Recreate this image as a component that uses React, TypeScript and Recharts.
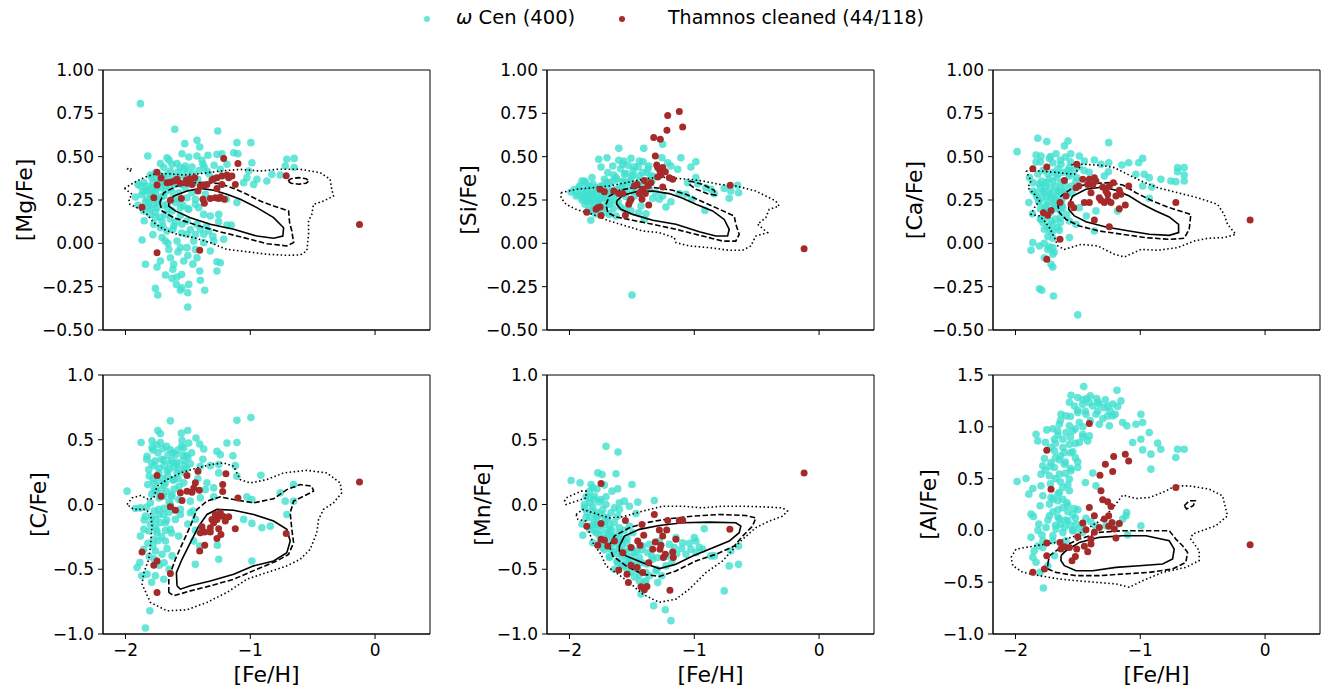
import { ScatterChart, Scatter, XAxis, YAxis, ReferenceArea } from 'recharts';

type P = [number, number][];

const X_DOMAIN: [number, number] = [-2.18, 0.44];
const X_TICKS = [-2, -1, 0];
const ROW1_TICKS = [-0.5, -0.25, 0, 0.25, 0.5, 0.75, 1];
const ROW2_TICKS = [-1, -0.5, 0, 0.5, 1];
const AL_TICKS = [-1, -0.5, 0, 0.5, 1, 1.5];

const CYAN = '#40E0D0';
const BROWN = '#A52A2A';

// ---- [Mg/Fe] ----
const mgCyan: P = [
  [-1.88, 0.806], [-1.605, 0.658], [-1.261, 0.648], [-1.427, 0.594], [-1.525, 0.575], [-1.107, 0.581], [-0.995, 0.581], [-1.405, 0.556],
  [-1.821, 0.504], [-1.667, 0.494], [-1.547, 0.517], [-1.493, 0.498], [-1.427, 0.504], [-1.339, 0.508], [-1.267, 0.513], [-1.227, 0.517],
  [-1.133, 0.523], [-1.099, 0.517], [-1.387, 0.479], [-0.987, 0.465], [-0.707, 0.485], [-0.648, 0.49], [-0.72, 0.446], [-0.648, 0.437],
  [-1.587, 0.46], [-1.52, 0.446], [-1.467, 0.44], [-1.379, 0.456], [-1.693, 0.437], [-1.76, 0.408], [-1.8, 0.394], [-1.64, 0.417],
  [-1.56, 0.437], [-1.013, 0.417], [-0.947, 0.369], [-0.867, 0.36], [-0.827, 0.398], [-0.76, 0.394], [-1.027, 0.379], [-0.973, 0.34],
  [-1.053, 0.35], [-1.88, 0.331], [-1.84, 0.302], [-1.92, 0.267], [-1.827, 0.254], [-1.8, 0.283], [-1.76, 0.292], [-1.72, 0.321],
  [-1.68, 0.331], [-1.573, 0.292], [-1.52, 0.321], [-1.467, 0.292], [-1.36, 0.283], [-1.192, 0.254], [-1.107, 0.235], [-1.853, 0.187],
  [-1.8, 0.167], [-1.747, 0.206], [-1.707, 0.129], [-1.68, 0.167], [-1.627, 0.187], [-1.56, 0.206], [-1.493, 0.196], [-1.44, 0.225],
  [-1.413, 0.206], [-1.373, 0.167], [-1.32, 0.158], [-1.253, 0.167], [-1.253, 0.125], [-1.187, 0.106], [-1.152, 0.106], [-1.773, 0.11],
  [-1.72, 0.09], [-1.667, 0.071], [-1.613, 0.1], [-1.547, 0.11], [-1.507, 0.129], [-1.427, 0.11], [-1.4, 0.081], [-1.333, 0.071],
  [-1.507, 0.052], [-1.867, 0.019], [-1.707, 0.033], [-1.587, 0.013], [-1.453, 0.013], [-1.373, 0.004], [-1.293, 0.013], [-1.213, 0.023],
  [-1.653, -0.035], [-1.56, -0.025], [-1.507, -0.025], [-1.44, -0.035], [-1.32, -0.044], [-1.64, -0.083], [-1.533, -0.102], [-1.427, -0.083],
  [-1.72, -0.102], [-1.84, -0.121], [-1.747, -0.137], [-1.613, -0.121], [-1.267, -0.106], [-1.24, -0.112], [-1.405, -0.16], [-1.267, -0.16],
  [-1.68, -0.183], [-1.627, -0.202], [-1.587, -0.194], [-1.592, -0.237], [-1.547, -0.256], [-1.493, -0.237], [-1.4, -0.213], [-1.56, -0.271],
  [-1.501, -0.285], [-1.76, -0.26], [-1.741, -0.298], [-1.365, -0.271], [-1.501, -0.367], [-1.68, 0.013], [-1.373, 0.052], [-1.853, 0.35],
  [-1.813, 0.235], [-1.773, 0.225], [-1.733, 0.254], [-1.693, 0.273], [-1.667, 0.225], [-1.6, 0.235], [-1.787, 0.321], [-1.507, 0.263],
  [-1.44, 0.254], [-1.693, 0.379], [-1.627, 0.456], [-1.347, 0.417], [-1.24, 0.427], [-1.187, 0.456],
  [-1.86, 0.3], [-1.83, 0.33], [-1.78, 0.35], [-1.75, 0.37], [-1.71, 0.39], [-1.66, 0.4], [-1.62, 0.38], [-1.58, 0.41], [-1.54, 0.39],
  [-1.5, 0.41], [-1.46, 0.4], [-1.42, 0.37], [-1.78, 0.27], [-1.74, 0.24], [-1.7, 0.22], [-1.66, 0.2], [-1.62, 0.26], [-1.58, 0.25],
  [-1.54, 0.22], [-1.5, 0.2], [-1.82, 0.21], [-1.76, 0.18], [-1.72, 0.15], [-1.64, 0.14], [-1.6, 0.12], [-1.56, 0.16], [-1.68, 0.3],
  [-1.64, 0.32], [-1.6, 0.34], [-1.75, 0.32],
  [-1.9, 0.34], [-1.87, 0.28], [-1.84, 0.24], [-1.81, 0.31], [-1.79, 0.38], [-1.77, 0.3], [-1.73, 0.35], [-1.71, 0.27], [-1.69, 0.35],
  [-1.65, 0.36], [-1.63, 0.3], [-1.59, 0.37], [-1.55, 0.34], [-1.53, 0.43], [-1.49, 0.37], [-1.45, 0.35], [-1.41, 0.42], [-1.37, 0.44],
  [-1.33, 0.4], [-1.29, 0.45], [-1.8, 0.2], [-1.76, 0.15], [-1.7, 0.1], [-1.62, 0.08], [-1.55, 0.06], [-1.48, 0.08], [-1.44, 0.05],
  [-1.35, 0.1], [-1.3, 0.04], [-1.58, -0.05], [-1.5, -0.07], [-1.46, -0.12], [-1.62, -0.15], [-1.55, -0.18], [-1.66, 0.0], [-1.78, 0.05],
  [-1.85, 0.13], [-1.9, 0.22], [-1.72, 0.46], [-1.65, 0.48],
];
const mgRed: P = [
  [-1.213, 0.49], [-1.099, 0.46], [-0.712, 0.39], [-1.747, 0.41], [-1.715, 0.377], [-1.747, 0.337], [-1.64, 0.352], [-1.608, 0.36],
  [-1.512, 0.365], [-1.507, 0.346], [-1.445, 0.379], [-1.4, 0.331], [-1.373, 0.337], [-1.307, 0.365], [-1.267, 0.379], [-1.227, 0.388],
  [-1.187, 0.394], [-1.173, 0.379], [-1.12, 0.34], [-1.227, 0.34], [-1.419, 0.302], [-1.32, 0.258], [-1.28, 0.263], [-1.253, 0.258],
  [-1.552, 0.258], [-1.64, 0.248], [-1.773, 0.263], [-1.867, 0.208], [-1.368, 0.231], [-1.747, -0.054], [-1.405, -0.04], [-0.125, 0.108],
  [-1.485, 0.373], [-1.267, 0.317], [-1.56, 0.346], [-1.24, 0.267], [-1.147, 0.388], [-1.347, 0.34], [-1.587, 0.369], [-1.293, 0.373],
  [-1.667, 0.35], [-1.379, 0.254], [-1.467, 0.34], [-1.208, 0.254],
];
const mgSolid: P = [
  [-1.653, 0.235], [-1.613, 0.273], [-1.507, 0.302], [-1.4, 0.317], [-1.293, 0.306], [-1.187, 0.283], [-1.08, 0.254], [-0.947, 0.206],
  [-0.813, 0.148], [-0.733, 0.09], [-0.739, 0.042], [-0.813, 0.029], [-0.947, 0.042], [-1.133, 0.081], [-1.32, 0.11], [-1.48, 0.148],
  [-1.6, 0.187], [-1.653, 0.215],
];
const mgDashed: P = [
  [-1.725, 0.235], [-1.693, 0.292], [-1.587, 0.331], [-1.453, 0.35], [-1.347, 0.35], [-1.24, 0.344], [-1.133, 0.317], [-1.027, 0.283],
  [-0.92, 0.244], [-0.813, 0.215], [-0.693, 0.187], [-0.685, 0.119], [-0.667, 0.071], [-0.653, 0.004], [-0.707, -0.015], [-0.867, -0.002],
  [-1.053, 0.033], [-1.267, 0.071], [-1.453, 0.11], [-1.613, 0.148], [-1.707, 0.187],
];
const mgDashedIsland: P = [
  [-0.698, 0.36], [-0.673, 0.373], [-0.613, 0.379], [-0.553, 0.373], [-0.528, 0.36], [-0.553, 0.347], [-0.613, 0.341], [-0.673, 0.347],
];
const mgDotted: P = [
  [-2.008, 0.317], [-1.933, 0.35], [-1.853, 0.379], [-1.773, 0.398], [-1.667, 0.402], [-1.533, 0.394], [-1.4, 0.402], [-1.24, 0.417],
  [-1.08, 0.427], [-0.92, 0.417], [-0.787, 0.427], [-0.6, 0.427], [-0.44, 0.408], [-0.36, 0.369], [-0.347, 0.312], [-0.333, 0.273],
  [-0.413, 0.244], [-0.493, 0.225], [-0.507, 0.167], [-0.533, 0.129], [-0.533, 0.052], [-0.547, -0.044], [-0.6, -0.067], [-0.707, -0.069],
  [-0.867, -0.063], [-1.027, -0.048], [-1.187, -0.035], [-1.32, 0.004], [-1.453, 0.033], [-1.587, 0.052], [-1.693, 0.081], [-1.773, 0.119],
  [-1.827, 0.167], [-1.907, 0.206], [-1.965, 0.225], [-1.973, 0.254], [-1.947, 0.283],
];
const mgDottedIsland: P = [[-1.987, 0.43], [-1.96, 0.435], [-1.947, 0.417], [-1.975, 0.42]];

// ---- [Si/Fe] ----
const siCyan: P = [
  [-1.605, 0.548], [-1.405, 0.548], [-1.765, 0.485], [-1.699, 0.494], [-1.605, 0.479], [-1.565, 0.475], [-1.507, 0.49], [-1.44, 0.475],
  [-1.48, 0.442], [-1.573, 0.456], [-1.747, 0.44], [-1.653, 0.446], [-1.365, 0.446], [-1.259, 0.494], [-1.253, 0.571], [-1.187, 0.446],
  [-1.107, 0.494], [-0.987, 0.471], [-1.027, 0.44], [-1.133, 0.427], [-1.213, 0.465], [-1.88, 0.36], [-1.645, 0.394], [-1.547, 0.402],
  [-1.493, 0.394], [-1.413, 0.408], [-1.333, 0.388], [-1.72, 0.369], [-1.68, 0.35], [-1.573, 0.35], [-1.52, 0.36], [-1.92, 0.321],
  [-1.987, 0.296], [-1.867, 0.292], [-1.813, 0.283], [-1.787, 0.321], [-1.84, 0.254], [-1.875, 0.225], [-1.819, 0.187], [-1.829, 0.133],
  [-1.773, 0.244], [-1.707, 0.263], [-1.68, 0.225], [-1.64, 0.244], [-1.592, 0.21], [-1.68, 0.167], [-1.627, 0.158], [-1.427, 0.215],
  [-1.445, 0.177], [-1.4, 0.138], [-1.387, 0.171], [-1.333, 0.26], [-1.307, 0.292], [-1.253, 0.273], [-1.187, 0.24], [-1.227, 0.21],
  [-1.12, 0.287], [-1.053, 0.35], [-0.987, 0.379], [-0.973, 0.344], [-0.907, 0.321], [-0.867, 0.312], [-0.84, 0.287], [-0.915, 0.19],
  [-0.76, 0.317], [-0.72, 0.26], [-0.707, 0.302], [-0.653, 0.335], [-0.645, 0.292], [-1.499, -0.298], [-1.733, 0.331], [-1.6, 0.321],
  [-1.547, 0.292], [-1.653, 0.287], [-1.747, 0.273], [-1.8, 0.225], [-1.507, 0.187], [-1.56, 0.196], [-1.36, 0.312], [-1.28, 0.254],
  [-1.48, 0.273], [-1.44, 0.36], [-1.627, 0.379], [-1.693, 0.408], [-1.84, 0.331], [-1.947, 0.273], [-1.893, 0.263], [-1.067, 0.283],
  [-1.019, 0.254],
  [-1.9, 0.3], [-1.86, 0.32], [-1.82, 0.3], [-1.78, 0.31], [-1.74, 0.3], [-1.7, 0.29], [-1.88, 0.27], [-1.84, 0.27], [-1.8, 0.26],
  [-1.76, 0.25], [-1.72, 0.26], [-1.68, 0.24], [-1.86, 0.24], [-1.82, 0.22], [-1.78, 0.21], [-1.74, 0.2], [-1.66, 0.3], [-1.62, 0.28],
  [-1.58, 0.32], [-1.54, 0.33], [-1.5, 0.31], [-1.46, 0.34], [-1.62, 0.37], [-1.56, 0.4], [-1.5, 0.38], [-1.44, 0.39], [-1.38, 0.41],
  [-1.34, 0.36], [-1.7, 0.35], [-1.92, 0.33],
  [-1.96, 0.31], [-1.93, 0.28], [-1.9, 0.25], [-1.87, 0.35], [-1.85, 0.29], [-1.83, 0.25], [-1.81, 0.34], [-1.79, 0.28], [-1.77, 0.23],
  [-1.75, 0.33], [-1.73, 0.27], [-1.71, 0.22], [-1.69, 0.32], [-1.67, 0.27], [-1.65, 0.36], [-1.63, 0.31], [-1.61, 0.24], [-1.59, 0.43],
  [-1.57, 0.36], [-1.55, 0.27], [-1.53, 0.45], [-1.51, 0.35], [-1.49, 0.42], [-1.47, 0.3], [-1.45, 0.44], [-1.43, 0.33], [-1.41, 0.47],
  [-1.39, 0.36], [-1.37, 0.43], [-1.35, 0.39], [-1.85, 0.19], [-1.79, 0.17], [-1.71, 0.18], [-1.65, 0.2], [-1.9, 0.36], [-1.82, 0.38],
];
const siRed: P = [
  [-1.12, 0.76], [-1.213, 0.738], [-1.219, 0.652], [-1.093, 0.671], [-1.325, 0.61], [-1.272, 0.6], [-1.312, 0.504], [-1.301, 0.452],
  [-1.253, 0.437], [-1.275, 0.417], [-1.232, 0.413], [-1.267, 0.394], [-1.293, 0.383], [-1.173, 0.369], [-1.4, 0.363], [-1.373, 0.331],
  [-1.459, 0.34], [-1.413, 0.312], [-1.44, 0.287], [-1.419, 0.254], [-1.365, 0.221], [-1.253, 0.325], [-0.712, 0.335], [-1.755, 0.312],
  [-1.72, 0.298], [-1.645, 0.302], [-1.605, 0.287], [-1.515, 0.244], [-1.525, 0.225], [-1.552, 0.162], [-1.773, 0.206], [-1.755, 0.21],
  [-1.747, 0.16], [-1.861, 0.179], [-0.12, -0.031], [-1.427, 0.298], [-1.48, 0.331], [-1.392, 0.287], [-1.293, 0.437], [-1.507, 0.254],
  [-1.787, 0.196], [-1.347, 0.35], [-1.2, 0.379], [-1.573, 0.287],
];
const siSolid: P = [
  [-1.621, 0.244], [-1.573, 0.277], [-1.467, 0.298], [-1.333, 0.302], [-1.2, 0.287], [-1.093, 0.26], [-0.987, 0.225], [-0.853, 0.187],
  [-0.76, 0.138], [-0.72, 0.081], [-0.733, 0.042], [-0.827, 0.042], [-0.96, 0.067], [-1.147, 0.11], [-1.333, 0.133], [-1.493, 0.167],
  [-1.587, 0.196], [-1.621, 0.225],
];
const siDashed: P = [
  [-1.707, 0.225], [-1.68, 0.273], [-1.6, 0.306], [-1.467, 0.325], [-1.307, 0.321], [-1.173, 0.306], [-1.067, 0.283], [-0.96, 0.248],
  [-0.827, 0.206], [-0.68, 0.158], [-0.667, 0.11], [-0.64, 0.052], [-0.667, 0.013], [-0.773, 0.013], [-0.933, 0.042], [-1.147, 0.081],
  [-1.333, 0.11], [-1.493, 0.133], [-1.627, 0.152], [-1.693, 0.177],
];
const siDashedIsland: P = [[-1.04, 0.36], [-0.933, 0.34], [-0.84, 0.306], [-0.827, 0.279], [-0.88, 0.283], [-0.987, 0.312], [-1.04, 0.34]];
const siDotted: P = [
  [-2.067, 0.292], [-1.947, 0.312], [-1.813, 0.321], [-1.68, 0.331], [-1.547, 0.35], [-1.413, 0.369], [-1.28, 0.383], [-1.147, 0.375],
  [-1.04, 0.369], [-0.933, 0.36], [-0.8, 0.34], [-0.667, 0.331], [-0.507, 0.302], [-0.347, 0.244], [-0.32, 0.215], [-0.4, 0.196],
  [-0.427, 0.148], [-0.493, 0.11], [-0.413, 0.062], [-0.507, 0.042], [-0.547, -0.015], [-0.613, -0.04], [-0.72, -0.04], [-0.88, -0.025],
  [-1.04, -0.015], [-1.147, 0.004], [-1.16, 0.033], [-1.28, 0.062], [-1.413, 0.071], [-1.547, 0.1], [-1.68, 0.129], [-1.813, 0.167],
  [-1.947, 0.196], [-2.027, 0.225], [-2.067, 0.263],
];

// ---- [Ca/Fe] ----
const caCyan: P = [
  [-1.821, 0.606], [-1.749, 0.587], [-1.579, 0.59], [-1.608, 0.562], [-1.253, 0.581], [-1.987, 0.529], [-1.835, 0.51], [-1.795, 0.504],
  [-1.728, 0.49], [-1.675, 0.517], [-1.6, 0.498], [-1.557, 0.517], [-1.488, 0.504], [-1.448, 0.475], [-1.368, 0.481], [-1.835, 0.469],
  [-1.701, 0.465], [-1.635, 0.456], [-1.568, 0.437], [-1.315, 0.456], [-1.253, 0.465], [-1.147, 0.452], [-1.093, 0.465], [-1.013, 0.465],
  [-0.981, 0.49], [-1.256, 0.413], [-1.035, 0.398], [-0.968, 0.398], [-0.928, 0.379], [-0.835, 0.369], [-0.755, 0.36], [-0.715, 0.356],
  [-0.701, 0.413], [-0.648, 0.437], [-0.648, 0.394], [-0.648, 0.36], [-0.701, 0.437], [-0.981, 0.331], [-0.907, 0.325], [-1.888, 0.379],
  [-1.808, 0.344], [-1.755, 0.35], [-1.701, 0.36], [-1.661, 0.398], [-1.568, 0.388], [-1.861, 0.302], [-1.781, 0.298], [-1.728, 0.283],
  [-1.661, 0.302], [-1.608, 0.292], [-1.547, 0.287], [-1.893, 0.235], [-1.813, 0.244], [-1.741, 0.235], [-1.688, 0.215], [-1.864, 0.171],
  [-1.795, 0.138], [-1.715, 0.129], [-1.64, 0.148], [-1.589, 0.167], [-1.568, 0.129], [-1.488, 0.206], [-1.432, 0.158], [-1.515, 0.11],
  [-1.768, 0.081], [-1.701, 0.071], [-1.648, 0.075], [-1.568, 0.033], [-1.368, 0.071], [-1.181, 0.187], [-1.355, 0.187], [-1.861, 0.004],
  [-1.808, -0.015], [-1.741, -0.035], [-1.701, -0.025], [-1.875, -0.04], [-1.701, -0.063], [-1.768, -0.083], [-1.715, -0.121], [-1.701, -0.137],
  [-1.808, -0.262], [-1.789, -0.271], [-1.696, -0.304], [-1.501, -0.413], [-0.928, 0.26], [-1.288, 0.388], [-1.635, 0.35], [-1.515, 0.36],
  [-1.688, 0.254], [-1.768, 0.206], [-1.621, 0.206],
  [-1.82, 0.4], [-1.78, 0.42], [-1.74, 0.4], [-1.7, 0.41], [-1.66, 0.43], [-1.62, 0.41], [-1.58, 0.42], [-1.8, 0.32], [-1.76, 0.33],
  [-1.72, 0.32], [-1.68, 0.33], [-1.64, 0.31], [-1.6, 0.33], [-1.83, 0.27], [-1.79, 0.26], [-1.75, 0.27], [-1.71, 0.26], [-1.67, 0.27],
  [-1.63, 0.25], [-1.8, 0.2], [-1.76, 0.19], [-1.72, 0.18], [-1.68, 0.2], [-1.64, 0.19], [-1.78, 0.12], [-1.74, 0.1], [-1.7, 0.11],
  [-1.66, 0.09], [-1.74, 0.04], [-1.7, 0.03],
  [-1.86, 0.35], [-1.84, 0.29], [-1.81, 0.24], [-1.79, 0.36], [-1.77, 0.3], [-1.75, 0.22], [-1.73, 0.37], [-1.71, 0.29], [-1.69, 0.23],
  [-1.67, 0.38], [-1.65, 0.3], [-1.63, 0.22], [-1.61, 0.36], [-1.59, 0.29], [-1.57, 0.4], [-1.55, 0.33], [-1.53, 0.42], [-1.51, 0.38],
  [-1.49, 0.44], [-1.45, 0.42], [-1.41, 0.41], [-1.8, 0.14], [-1.76, 0.15], [-1.72, 0.07], [-1.68, 0.14], [-1.64, 0.12], [-1.77, 0.0],
  [-1.73, -0.02], [-1.69, -0.05], [-1.8, 0.47], [-1.72, 0.5], [-1.64, 0.48], [-1.56, 0.47],
];
const caRed: P = [
  [-1.861, 0.431], [-1.749, 0.44], [-1.509, 0.456], [-1.608, 0.363], [-1.461, 0.369], [-1.408, 0.369], [-1.368, 0.379], [-1.515, 0.321],
  [-1.493, 0.331], [-1.421, 0.34], [-1.381, 0.337], [-1.301, 0.325], [-1.248, 0.331], [-1.216, 0.35], [-1.168, 0.306], [-1.093, 0.331],
  [-1.261, 0.283], [-1.195, 0.273], [-1.315, 0.248], [-1.288, 0.235], [-1.261, 0.248], [-1.235, 0.235], [-1.448, 0.235], [-1.408, 0.235],
  [-1.555, 0.225], [-1.533, 0.206], [-1.12, 0.221], [-1.168, 0.2], [-1.643, 0.235], [-1.776, 0.177], [-1.715, 0.19], [-1.741, 0.162],
  [-1.368, 0.135], [-1.248, 0.096], [-1.643, 0.023], [-1.749, -0.092], [-0.715, 0.235], [-0.12, 0.135], [-1.275, 0.302], [-1.328, 0.263],
  [-1.595, 0.273], [-1.395, 0.292], [-1.155, 0.283], [-1.355, 0.36],
];
const caSolid: P = [
  [-1.573, 0.225], [-1.541, 0.273], [-1.435, 0.312], [-1.301, 0.325], [-1.195, 0.306], [-1.088, 0.273], [-0.981, 0.225], [-0.875, 0.187],
  [-0.768, 0.152], [-0.693, 0.11], [-0.693, 0.062], [-0.768, 0.046], [-0.928, 0.052], [-1.088, 0.071], [-1.275, 0.094], [-1.435, 0.125],
  [-1.528, 0.158], [-1.573, 0.196],
];
const caDashed: P = [
  [-1.661, 0.225], [-1.635, 0.273], [-1.541, 0.321], [-1.408, 0.344], [-1.248, 0.35], [-1.141, 0.337], [-1.035, 0.292], [-0.901, 0.244],
  [-0.768, 0.206], [-0.595, 0.167], [-0.608, 0.081], [-0.648, 0.029], [-0.768, 0.023], [-0.955, 0.033], [-1.141, 0.052], [-1.328, 0.071],
  [-1.488, 0.1], [-1.595, 0.138], [-1.648, 0.177],
];
const caDotted: P = [
  [-1.915, 0.417], [-1.795, 0.417], [-1.661, 0.408], [-1.528, 0.398], [-1.488, 0.437], [-1.555, 0.456], [-1.448, 0.456], [-1.315, 0.45],
  [-1.208, 0.437], [-1.101, 0.398], [-0.995, 0.36], [-0.861, 0.321], [-0.701, 0.292], [-0.541, 0.263], [-0.381, 0.225], [-0.328, 0.167],
  [-0.301, 0.11], [-0.235, 0.052], [-0.328, 0.033], [-0.461, 0.029], [-0.568, 0.013], [-0.701, -0.025], [-0.861, -0.04], [-0.995, -0.035],
  [-1.128, -0.079], [-1.208, -0.063], [-1.341, -0.015], [-1.475, -0.006], [-1.608, -0.035], [-1.661, -0.015], [-1.688, 0.033], [-1.728, 0.09],
  [-1.768, 0.129], [-1.808, 0.158], [-1.875, 0.167], [-1.848, 0.206], [-1.808, 0.244], [-1.848, 0.283], [-1.901, 0.321], [-1.875, 0.36],
];

// ---- [C/Fe] ----
const cCyan: P = [
  [-1.64, 0.646], [-1.107, 0.651], [-0.995, 0.672], [-1.741, 0.572], [-1.72, 0.546], [-1.552, 0.551], [-1.501, 0.572], [-1.435, 0.513],
  [-1.875, 0.479], [-1.787, 0.492], [-1.72, 0.479], [-1.547, 0.495], [-1.493, 0.474], [-1.405, 0.467], [-1.187, 0.474], [-1.107, 0.479],
  [-1.787, 0.441], [-1.64, 0.423], [-1.533, 0.436], [-1.6, 0.385], [-1.512, 0.377], [-1.373, 0.428], [-1.267, 0.41], [-1.24, 0.385],
  [-1.139, 0.377], [-1.827, 0.372], [-1.76, 0.338], [-1.693, 0.341], [-1.64, 0.321], [-1.587, 0.326], [-1.533, 0.341], [-1.48, 0.315],
  [-1.4, 0.295], [-1.32, 0.3], [-1.253, 0.308], [-1.12, 0.3], [-1.813, 0.269], [-1.733, 0.244], [-1.667, 0.256], [-1.587, 0.244],
  [-1.253, 0.244], [-1.107, 0.218], [-0.915, 0.226], [-1.821, 0.154], [-1.773, 0.167], [-1.68, 0.167], [-1.613, 0.192], [-1.533, 0.167],
  [-1.347, 0.167], [-1.293, 0.128], [-1.987, 0.103], [-1.92, -0.031], [-1.88, -0.026], [-1.76, 0.103], [-1.693, 0.064], [-1.627, 0.077],
  [-1.573, 0.038], [-1.48, 0.026], [-1.4, 0.051], [-1.36, 0.115], [-1.293, 0.059], [-1.027, 0.059], [-0.987, 0.038], [-0.76, 0.09],
  [-0.72, 0.026], [-0.653, 0.154], [-0.653, 0.026], [-0.707, -0.077], [-1.84, -0.09], [-1.76, -0.115], [-1.693, -0.077], [-1.6, -0.115],
  [-1.56, -0.077], [-1.48, -0.064], [-1.44, -0.115], [-1.053, -0.115], [-0.987, -0.146], [-0.907, -0.179], [-0.84, -0.167], [-1.88, -0.244],
  [-1.813, -0.205], [-1.747, -0.218], [-1.64, -0.192], [-1.573, -0.244], [-1.453, -0.282], [-1.405, -0.321], [-1.264, -0.315], [-1.253, -0.423],
  [-1.44, -0.462], [-0.987, -0.436], [-1.885, -0.449], [-1.853, -0.346], [-1.76, -0.359], [-1.707, -0.385], [-1.667, -0.341], [-1.907, -0.487],
  [-1.827, -0.538], [-1.76, -0.551], [-1.693, -0.577], [-1.805, -0.821], [-1.84, -0.954], [-1.773, -0.269], [-1.68, -0.282], [-1.627, -0.397],
  [-1.8, 0.013], [-1.64, 0.0], [-1.56, -0.038], [-1.733, -0.038], [-1.853, -0.192], [-1.68, -0.141],
  [-1.78, 0.42], [-1.74, 0.4], [-1.7, 0.43], [-1.66, 0.38], [-1.62, 0.4], [-1.58, 0.42], [-1.54, 0.38], [-1.5, 0.36], [-1.77, 0.3],
  [-1.73, 0.28], [-1.69, 0.3], [-1.65, 0.27], [-1.61, 0.29], [-1.57, 0.27], [-1.53, 0.25], [-1.78, 0.2], [-1.74, 0.18], [-1.7, 0.2],
  [-1.66, 0.22], [-1.62, 0.19], [-1.58, 0.2], [-1.79, 0.08], [-1.75, 0.1], [-1.71, 0.12], [-1.67, 0.1], [-1.63, 0.06], [-1.77, -0.05],
  [-1.73, -0.08], [-1.69, -0.03], [-1.65, -0.06], [-1.8, -0.15], [-1.76, -0.17], [-1.72, -0.14], [-1.68, -0.2], [-1.82, -0.3],
  [-1.78, -0.32], [-1.74, -0.28],
  [-1.83, 0.35], [-1.79, 0.32], [-1.75, 0.46], [-1.71, 0.35], [-1.67, 0.45], [-1.63, 0.34], [-1.59, 0.31], [-1.55, 0.45], [-1.51, 0.28],
  [-1.47, 0.4], [-1.81, 0.22], [-1.77, 0.12], [-1.73, 0.05], [-1.69, 0.15], [-1.65, 0.02], [-1.61, 0.12], [-1.57, 0.14], [-1.53, 0.3],
  [-1.83, -0.02], [-1.79, -0.1], [-1.75, -0.2], [-1.71, -0.25], [-1.67, -0.12], [-1.63, -0.22], [-1.85, -0.12], [-1.81, -0.4],
  [-1.77, -0.42], [-1.73, -0.47], [-1.69, -0.45], [-1.65, -0.5], [-1.87, -0.55], [-1.79, -0.6], [-1.44, -0.2], [-1.46, -0.05],
  [-1.5, -0.15], [-1.42, 0.2], [-1.38, 0.35],
];
const cRed: P = [
  [-1.747, 0.223], [-1.507, 0.223], [-1.419, 0.256], [-1.195, 0.238], [-1.715, 0.064], [-1.44, 0.167], [-1.221, 0.154], [-1.221, 0.1],
  [-1.099, 0.051], [-1.547, 0.031], [-1.507, 0.103], [-1.467, 0.095], [-1.408, 0.11], [-1.64, -0.018], [-1.6, -0.044], [-1.28, -0.077],
  [-1.253, -0.09], [-1.219, -0.09], [-1.173, -0.095], [-1.307, -0.115], [-1.293, -0.141], [-1.387, -0.172], [-1.365, -0.213], [-1.32, -0.213],
  [-1.253, -0.187], [-1.12, -0.187], [-1.267, -0.262], [-1.235, -0.231], [-1.365, -0.315], [-1.405, -0.359], [-1.867, -0.367], [-1.747, -0.436],
  [-1.773, -0.469], [-1.64, -0.533], [-1.747, -0.679], [-0.712, -0.223], [-0.125, 0.174], [-1.267, -0.115], [-1.2, -0.128], [-1.32, -0.179],
  [-1.56, 0.09], [-1.453, 0.128], [-1.24, -0.064], [-1.4, -0.218],
];
const cSolid: P = [
  [-1.587, -0.628], [-1.592, -0.526], [-1.547, -0.423], [-1.48, -0.295], [-1.413, -0.167], [-1.347, -0.077], [-1.267, -0.038], [-1.133, -0.044],
  [-0.973, -0.077], [-0.813, -0.128], [-0.707, -0.192], [-0.68, -0.282], [-0.707, -0.372], [-0.813, -0.436], [-0.973, -0.474], [-1.133, -0.538],
  [-1.32, -0.59], [-1.48, -0.628], [-1.56, -0.654],
];
const cDashed: P = [
  [-1.653, -0.679], [-1.653, -0.564], [-1.6, -0.423], [-1.547, -0.308], [-1.48, -0.167], [-1.427, -0.038], [-1.347, 0.026], [-1.24, 0.059],
  [-1.133, 0.038], [-0.973, 0.013], [-0.813, 0.044], [-0.707, 0.115], [-0.6, 0.154], [-0.507, 0.141], [-0.493, 0.103], [-0.573, 0.064],
  [-0.653, 0.026], [-0.68, -0.064], [-0.667, -0.192], [-0.653, -0.295], [-0.693, -0.385], [-0.787, -0.436], [-0.947, -0.5], [-1.133, -0.577],
  [-1.32, -0.628], [-1.48, -0.667], [-1.613, -0.705],
];
const cDotted: P = [
  [-1.987, 0.0], [-1.947, 0.051], [-1.88, 0.069], [-1.813, 0.038], [-1.773, 0.051], [-1.747, 0.141], [-1.667, 0.192], [-1.56, 0.244],
  [-1.427, 0.282], [-1.32, 0.308], [-1.213, 0.321], [-1.133, 0.295], [-1.08, 0.192], [-1.0, 0.167], [-0.867, 0.192], [-0.733, 0.244],
  [-0.547, 0.264], [-0.387, 0.244], [-0.28, 0.167], [-0.267, 0.09], [-0.333, 0.013], [-0.413, -0.038], [-0.453, -0.115], [-0.467, -0.218],
  [-0.52, -0.346], [-0.6, -0.423], [-0.707, -0.474], [-0.867, -0.526], [-1.027, -0.577], [-1.187, -0.679], [-1.347, -0.756], [-1.507, -0.813],
  [-1.667, -0.821], [-1.8, -0.756], [-1.867, -0.615], [-1.853, -0.526], [-1.813, -0.423], [-1.8, -0.321], [-1.787, -0.167], [-1.8, -0.064],
  [-1.853, -0.038], [-1.933, -0.038],
];

// ---- [Mn/Fe] ----
const mnCyan: P = [
  [-1.707, 0.449], [-1.611, 0.405], [-1.987, 0.185], [-1.915, 0.167], [-1.773, 0.244], [-1.739, 0.231], [-1.627, 0.238], [-1.499, 0.154],
  [-1.827, 0.154], [-1.813, 0.128], [-1.659, 0.103], [-1.613, 0.121], [-1.867, 0.059], [-1.8, 0.064], [-1.747, 0.038], [-1.707, 0.059],
  [-1.6, 0.013], [-1.453, 0.018], [-1.32, 0.031], [-1.88, -0.026], [-1.813, -0.013], [-1.733, -0.038], [-1.64, -0.026], [-1.6, -0.038],
  [-1.52, -0.013], [-1.467, -0.069], [-1.867, -0.103], [-1.787, -0.09], [-1.693, -0.115], [-1.613, -0.09], [-1.893, -0.238], [-1.84, -0.192],
  [-1.787, -0.218], [-1.68, -0.192], [-1.6, -0.179], [-1.52, -0.167], [-1.813, -0.295], [-1.733, -0.333], [-1.667, -0.346], [-1.6, -0.333],
  [-1.547, -0.372], [-1.48, -0.372], [-1.68, -0.41], [-1.613, -0.449], [-1.56, -0.474], [-1.44, -0.41], [-1.373, -0.372], [-1.333, -0.423],
  [-1.413, -0.321], [-1.36, -0.308], [-1.387, -0.526], [-1.44, -0.59], [-1.307, -0.513], [-1.293, -0.603], [-1.427, -0.692], [-1.325, -0.782],
  [-1.232, -0.813], [-1.187, -0.897], [-1.147, -0.256], [-1.16, -0.333], [-1.093, -0.295], [-1.067, -0.385], [-1.027, -0.346], [-1.0, -0.256],
  [-0.987, -0.282], [-0.92, -0.187], [-0.933, -0.346], [-0.987, -0.372], [-0.867, -0.397], [-0.84, -0.397], [-0.707, -0.359], [-0.645, -0.321],
  [-0.72, -0.474], [-0.645, -0.462], [-0.76, -0.667], [-1.2, -0.308], [-1.28, -0.282], [-1.387, -0.59], [-1.227, -0.474], [-1.293, -0.41],
  [-1.493, -0.474], [-1.693, -0.218], [-1.493, -0.218], [-1.453, -0.5], [-1.64, -0.5], [-1.787, -0.154], [-1.72, -0.154], [-1.653, -0.256],
  [-1.573, -0.269], [-1.52, -0.423], [-1.707, 0.0], [-1.667, -0.064], [-1.84, 0.013], [-1.56, 0.026],
  [-1.84, 0.05], [-1.8, 0.04], [-1.76, 0.02], [-1.82, -0.05], [-1.78, -0.06], [-1.74, -0.08], [-1.7, -0.1], [-1.8, -0.14], [-1.76, -0.16],
  [-1.72, -0.13], [-1.68, -0.16], [-1.64, -0.14], [-1.76, -0.24], [-1.72, -0.26], [-1.68, -0.23], [-1.64, -0.25], [-1.6, -0.22],
  [-1.56, -0.2], [-1.7, -0.32], [-1.66, -0.3], [-1.62, -0.3], [-1.58, -0.31], [-1.54, -0.3], [-1.62, -0.38], [-1.58, -0.4], [-1.54, -0.42],
  [-1.5, -0.4], [-1.46, -0.36], [-1.54, -0.5], [-1.5, -0.52], [-1.46, -0.48], [-1.42, -0.45],
  [-1.88, 0.0], [-1.86, -0.06], [-1.84, -0.1], [-1.82, -0.16], [-1.8, -0.2], [-1.78, -0.1], [-1.76, -0.3], [-1.74, -0.2], [-1.72, -0.35],
  [-1.7, -0.26], [-1.68, -0.4], [-1.66, -0.2], [-1.64, -0.36], [-1.62, -0.44], [-1.6, -0.27], [-1.58, -0.46], [-1.56, -0.36], [-1.54, -0.26],
  [-1.52, -0.46], [-1.5, -0.34], [-1.48, -0.56], [-1.46, -0.44], [-1.44, -0.54], [-1.42, -0.35], [-1.4, -0.6], [-1.38, -0.46], [-1.36, -0.55],
  [-1.34, -0.4], [-1.3, -0.5], [-1.26, -0.55], [-1.22, -0.4], [-1.18, -0.45], [-1.14, -0.38], [-1.1, -0.34], [-1.04, -0.3], [-0.96, -0.33],
  [-1.84, 0.1], [-1.78, 0.12], [-1.72, 0.15], [-1.9, -0.15],
];
const mnRed: P = [
  [-1.747, 0.162], [-1.861, -0.167], [-1.747, -0.146], [-1.552, -0.123], [-1.419, -0.154], [-1.32, -0.077], [-1.213, -0.123], [-1.12, -0.123],
  [-1.093, -0.121], [-1.28, -0.197], [-1.221, -0.197], [-0.715, -0.192], [-1.747, -0.269], [-1.72, -0.277], [-1.773, -0.315], [-1.693, -0.321],
  [-1.453, -0.282], [-1.435, -0.315], [-1.507, -0.333], [-1.405, -0.238], [-1.312, -0.29], [-1.267, -0.315], [-1.275, -0.346], [-1.232, -0.385],
  [-1.248, -0.41], [-1.173, -0.367], [-1.168, -0.41], [-1.365, -0.449], [-1.507, -0.469], [-1.605, -0.505], [-1.459, -0.487], [-1.539, -0.538],
  [-1.528, -0.603], [-1.427, -0.636], [-1.379, -0.633], [-1.4, -0.659], [-1.195, -0.662], [-0.12, 0.244], [-1.253, -0.244], [-1.333, -0.346],
  [-1.573, -0.372], [-1.413, -0.526], [-1.64, -0.282], [-1.147, -0.269],
];
const mnSolid: P = [
  [-1.6, -0.321], [-1.56, -0.244], [-1.44, -0.192], [-1.28, -0.162], [-1.093, -0.141], [-0.88, -0.136], [-0.667, -0.141], [-0.627, -0.167],
  [-0.64, -0.218], [-0.72, -0.282], [-0.88, -0.346], [-1.013, -0.397], [-1.147, -0.462], [-1.28, -0.495], [-1.413, -0.449], [-1.547, -0.397],
  [-1.6, -0.359],
];
const mnDashed: P = [
  [-1.68, -0.321], [-1.64, -0.244], [-1.52, -0.179], [-1.36, -0.136], [-1.2, -0.11], [-1.013, -0.09], [-0.8, -0.077], [-0.587, -0.085],
  [-0.507, -0.103], [-0.533, -0.167], [-0.613, -0.244], [-0.68, -0.321], [-0.827, -0.385], [-0.987, -0.436], [-1.147, -0.513], [-1.28, -0.556],
  [-1.413, -0.538], [-1.547, -0.474], [-1.653, -0.397],
];
const mnDottedIsland: P = [[-2.04, 0.026], [-2.027, 0.051], [-1.907, 0.103], [-1.867, 0.103], [-1.867, 0.051], [-1.947, 0.026], [-2.027, 0.0]];
const mnDotted: P = [
  [-1.947, -0.077], [-1.893, -0.038], [-1.813, -0.064], [-1.68, -0.103], [-1.573, -0.095], [-1.413, -0.051], [-1.253, -0.013], [-1.093, -0.013],
  [-0.933, -0.026], [-0.773, -0.013], [-0.613, -0.013], [-0.453, -0.018], [-0.293, -0.026], [-0.253, -0.051], [-0.293, -0.09], [-0.4, -0.128],
  [-0.507, -0.179], [-0.613, -0.269], [-0.667, -0.321], [-0.773, -0.436], [-0.907, -0.526], [-1.04, -0.654], [-1.147, -0.731], [-1.28, -0.756],
  [-1.413, -0.692], [-1.52, -0.603], [-1.627, -0.526], [-1.707, -0.474], [-1.747, -0.385], [-1.813, -0.295], [-1.84, -0.218], [-1.867, -0.128],
  [-1.933, -0.115],
];

// ---- [Al/Fe] ----
const alCyan: P = [
  [-1.453, 1.388], [-1.187, 1.352], [-1.555, 1.304], [-1.501, 1.282], [-1.429, 1.272], [-1.349, 1.272], [-1.568, 1.237], [-1.528, 1.201],
  [-1.461, 1.218], [-1.408, 1.233], [-1.381, 1.201], [-1.328, 1.218], [-1.288, 1.185], [-1.155, 1.25], [-1.181, 1.195], [-1.635, 1.121],
  [-1.595, 1.105], [-1.501, 1.137], [-1.435, 1.121], [-1.355, 1.121], [-1.261, 1.105], [-1.221, 1.105], [-1.141, 1.041], [-1.108, 1.009],
  [-1.035, 1.025], [-0.995, 1.121], [-0.981, 1.041], [-1.648, 1.025], [-1.568, 1.009], [-1.488, 1.041], [-1.328, 1.025], [-1.248, 1.009],
  [-1.835, 0.928], [-1.749, 0.97], [-1.661, 0.96], [-1.595, 0.944], [-1.541, 0.96], [-1.461, 0.928], [-1.408, 0.912], [-1.821, 0.864],
  [-1.688, 0.88], [-1.568, 0.832], [-1.488, 0.848], [-1.421, 0.864], [-1.061, 0.848], [-0.995, 0.88], [-0.928, 0.944], [-0.861, 0.842],
  [-0.835, 0.784], [-0.701, 0.784], [-0.648, 0.784], [-0.715, 0.704], [-0.981, 0.777], [-0.915, 0.736], [-0.915, 0.591], [-1.688, 0.768],
  [-1.608, 0.752], [-1.541, 0.758], [-1.768, 0.694], [-1.715, 0.655], [-1.648, 0.681], [-1.501, 0.662], [-1.781, 0.623], [-1.688, 0.607],
  [-1.608, 0.639], [-1.555, 0.575], [-1.381, 0.553], [-1.501, 0.607], [-1.795, 0.543], [-1.728, 0.527], [-1.648, 0.543], [-1.568, 0.495],
  [-1.44, 0.463], [-1.355, 0.43], [-1.987, 0.472], [-1.915, 0.501], [-1.861, 0.405], [-1.893, 0.35], [-1.795, 0.43], [-1.781, 0.334],
  [-1.715, 0.318], [-1.648, 0.366], [-1.621, 0.414], [-1.568, 0.382], [-1.728, 0.254], [-1.661, 0.286], [-1.589, 0.27], [-1.528, 0.212],
  [-1.803, 0.238], [-1.875, 0.157], [-1.856, 0.135], [-1.728, 0.141], [-1.648, 0.109], [-1.581, 0.093], [-1.515, 0.061], [-1.435, 0.116],
  [-1.813, 0.061], [-1.755, 0.029], [-1.675, 0.013], [-1.608, 0.029], [-1.541, -0.003], [-1.488, 0.013], [-1.875, -0.067], [-1.787, -0.045],
  [-1.701, -0.1], [-1.781, -0.164], [-1.861, -0.26], [-1.835, -0.308], [-1.803, -0.405], [-1.776, -0.556], [-1.741, -0.341], [-1.688, -0.244],
  [-1.109, 0.173], [-1.115, 0.141], [-1.141, 0.109], [-1.181, 0.061], [-1.101, -0.042], [-0.995, 0.045], [-1.275, 0.045], [-1.395, 0.084],
  [-1.36, 0.045], [-1.461, -0.019], [-1.595, -0.1],
  [-1.66, 0.2], [-1.62, 0.22], [-1.58, 0.18], [-1.54, 0.15], [-1.7, 0.18], [-1.64, 0.06], [-1.6, 0.1], [-1.56, 0.05], [-1.52, 0.12],
  [-1.68, 0.05], [-1.72, 0.45], [-1.68, 0.5], [-1.64, 0.47], [-1.6, 0.55], [-1.76, 0.58], [-1.72, 0.62], [-1.68, 0.7], [-1.64, 0.72],
  [-1.6, 0.66], [-1.72, 0.8], [-1.68, 0.84], [-1.62, 0.88], [-1.56, 0.9], [-1.52, 0.98], [-1.46, 1.0], [-1.4, 1.06], [-1.34, 1.15],
  [-1.3, 1.08], [-1.24, 1.15], [-1.44, 1.15],
  [-1.7, 0.3], [-1.66, 0.35], [-1.62, 0.3], [-1.58, 0.44], [-1.56, 0.6], [-1.52, 0.7], [-1.56, 0.75], [-1.62, 0.8], [-1.66, 0.92],
  [-1.7, 0.98], [-1.76, 0.85], [-1.64, 1.06], [-1.56, 1.1], [-1.5, 1.16], [-1.46, 1.26], [-1.4, 1.3], [-1.34, 1.24], [-1.28, 1.26],
  [-1.26, 1.2], [-1.22, 1.22], [-1.2, 1.12], [-1.52, 0.84], [-1.46, 0.9], [-1.82, 0.0], [-1.78, -0.1], [-1.74, 0.1], [-1.7, -0.05],
  [-1.66, 0.13], [-1.62, -0.02], [-1.58, 0.24], [-1.54, 0.0], [-1.5, 0.2], [-1.46, 0.06], [-1.85, -0.2], [-1.82, -0.15],
];
const alRed: P = [
  [-1.408, 1.031], [-1.749, 0.774], [-1.213, 0.713], [-1.12, 0.736], [-1.093, 0.671], [-1.28, 0.639], [-1.221, 0.569], [-1.323, 0.533],
  [-1.315, 0.382], [-1.715, 0.398], [-1.301, 0.296], [-1.261, 0.276], [-1.235, 0.231], [-1.408, 0.222], [-1.368, 0.141], [-1.253, 0.141],
  [-1.227, 0.077], [-1.168, 0.067], [-1.253, 0.039], [-1.461, 0.071], [-1.435, 0.006], [-1.368, -0.019], [-1.395, -0.084], [-1.501, -0.061],
  [-1.195, -0.074], [-0.715, 0.414], [-1.749, -0.122], [-1.643, -0.116], [-1.608, -0.157], [-1.635, -0.18], [-1.509, -0.18], [-1.52, -0.251],
  [-1.547, -0.292], [-1.421, -0.206], [-1.448, -0.154], [-1.749, -0.244], [-1.768, -0.373], [-1.861, -0.405], [-0.12, -0.138], [-1.288, 0.109],
  [-1.328, 0.029], [-1.568, -0.164], [-1.395, -0.132], [-1.208, 0.013],
];
const alSolid: P = [
  [-1.635, -0.244], [-1.595, -0.196], [-1.488, -0.116], [-1.328, -0.067], [-1.141, -0.051], [-0.955, -0.051], [-0.768, -0.1], [-0.728, -0.18],
  [-0.741, -0.276], [-0.821, -0.324], [-1.008, -0.341], [-1.195, -0.357], [-1.381, -0.389], [-1.515, -0.389], [-1.608, -0.341], [-1.635, -0.292],
];
const alDashed: P = [
  [-1.741, -0.324], [-1.728, -0.244], [-1.635, -0.164], [-1.488, -0.084], [-1.328, -0.019], [-1.141, -0.003], [-0.955, -0.003], [-0.768, -0.003],
  [-0.715, -0.084], [-0.661, -0.148], [-0.621, -0.212], [-0.635, -0.308], [-0.741, -0.373], [-0.928, -0.405], [-1.141, -0.421], [-1.328, -0.437],
  [-1.515, -0.437], [-1.675, -0.405], [-1.741, -0.373],
];
const alDashedIsland: P = [[-0.648, 0.238], [-0.608, 0.286], [-0.56, 0.286], [-0.576, 0.238], [-0.629, 0.206]];
const alDotted: P = [
  [-2.035, -0.26], [-1.995, -0.18], [-1.835, -0.148], [-1.675, -0.116], [-1.515, -0.051], [-1.408, 0.029], [-1.301, 0.109], [-1.195, 0.254],
  [-1.141, 0.341], [-1.035, 0.308], [-0.928, 0.318], [-0.821, 0.366], [-0.715, 0.43], [-0.608, 0.43], [-0.448, 0.398], [-0.341, 0.334],
  [-0.301, 0.141], [-0.395, 0.045], [-0.581, -0.035], [-0.595, -0.084], [-0.528, -0.196], [-0.528, -0.292], [-0.635, -0.357], [-0.821, -0.405],
  [-0.981, -0.485], [-1.088, -0.549], [-1.195, -0.517], [-1.355, -0.501], [-1.515, -0.485], [-1.648, -0.469], [-1.808, -0.437], [-1.941, -0.405],
  [-2.021, -0.341],
];

type Kind = 'solid' | 'dashed' | 'dotted';
const LINE: Record<Kind, object> = {
  solid: { stroke: '#000', strokeWidth: 1.6 },
  dashed: { stroke: '#000', strokeWidth: 1.6, strokeDasharray: '5.5 2.4' },
  dotted: { stroke: '#000', strokeWidth: 1.6, strokeDasharray: '1.5 2.5' },
};

const toPts = (a: P) => a.map(([x, y]) => ({ x, y }));
const loop = (a: P) => toPts([...a, a[0]]);
const minus = (s: string) => s.replace('-', '\u2212');

const NoDot = () => <g />;
const CyanDot = (p: any) => <circle cx={p.cx} cy={p.cy} r={3.8} fill={CYAN} fillOpacity={0.8} />;
const RedDot = (p: any) => <circle cx={p.cx} cy={p.cy} r={3.5} fill={BROWN} />;

const COL_LEFT = [103, 547, 993];
const PLOT_W = 327;

const panels = [
  { col: 0, top: 70, h: 260, yLabel: '[Mg/Fe]', yDomain: [-0.5, 1], yTicks: ROW1_TICKS, digits: 2, bottom: false, cyan: mgCyan, red: mgRed,
    lines: [{ p: mgDotted, k: 'dotted' }, { p: mgDottedIsland, k: 'dotted' }, { p: mgDashed, k: 'dashed' }, { p: mgDashedIsland, k: 'dashed' }, { p: mgSolid, k: 'solid' }] },
  { col: 1, top: 70, h: 260, yLabel: '[Si/Fe]', yDomain: [-0.5, 1], yTicks: ROW1_TICKS, digits: 2, bottom: false, cyan: siCyan, red: siRed,
    lines: [{ p: siDotted, k: 'dotted' }, { p: siDashed, k: 'dashed' }, { p: siDashedIsland, k: 'dashed' }, { p: siSolid, k: 'solid' }] },
  { col: 2, top: 70, h: 260, yLabel: '[Ca/Fe]', yDomain: [-0.5, 1], yTicks: ROW1_TICKS, digits: 2, bottom: false, cyan: caCyan, red: caRed,
    lines: [{ p: caDotted, k: 'dotted' }, { p: caDashed, k: 'dashed' }, { p: caSolid, k: 'solid' }] },
  { col: 0, top: 375, h: 259, yLabel: '[C/Fe]', yDomain: [-1, 1], yTicks: ROW2_TICKS, digits: 1, bottom: true, cyan: cCyan, red: cRed,
    lines: [{ p: cDotted, k: 'dotted' }, { p: cDashed, k: 'dashed' }, { p: cSolid, k: 'solid' }] },
  { col: 1, top: 375, h: 259, yLabel: '[Mn/Fe]', yDomain: [-1, 1], yTicks: ROW2_TICKS, digits: 1, bottom: true, cyan: mnCyan, red: mnRed,
    lines: [{ p: mnDotted, k: 'dotted' }, { p: mnDottedIsland, k: 'dotted' }, { p: mnDashed, k: 'dashed' }, { p: mnSolid, k: 'solid' }] },
  { col: 2, top: 375, h: 259, yLabel: '[Al/Fe]', yDomain: [-1, 1.5], yTicks: AL_TICKS, digits: 1, bottom: true, cyan: alCyan, red: alRed,
    lines: [{ p: alDotted, k: 'dotted' }, { p: alDashed, k: 'dashed' }, { p: alDashedIsland, k: 'dashed' }, { p: alSolid, k: 'solid' }] },
];

const ML = 100;
const MT = 14;
const MR = 6;

function Panel({ cfg }: { cfg: (typeof panels)[number] }) {
  const xh = cfg.bottom ? 52 : 12;
  const left = COL_LEFT[cfg.col];
  return (
    <div style={{ position: 'absolute', left: left - ML, top: cfg.top - MT }}>
      <ScatterChart width={ML + PLOT_W + MR} height={MT + cfg.h + xh} margin={{ top: MT, right: MR, bottom: 0, left: 0 }}>
        <XAxis
          type="number"
          dataKey="x"
          domain={X_DOMAIN}
          ticks={X_TICKS}
          interval={0}
          allowDataOverflow
          height={xh}
          stroke="#000"
          tickSize={5}
          tickMargin={5}
          tick={{ fill: '#000', fontSize: 17 }}
          tickFormatter={cfg.bottom ? (v: number) => minus(String(v)) : () => ''}
          label={cfg.bottom ? { value: '[Fe/H]', position: 'insideBottom', offset: 4, fill: '#000', fontSize: 22 } : undefined}
        />
        <YAxis
          type="number"
          dataKey="y"
          domain={cfg.yDomain}
          ticks={cfg.yTicks}
          interval={0}
          allowDataOverflow
          width={ML}
          stroke="#000"
          tickSize={5}
          tickMargin={4}
          tick={{ fill: '#000', fontSize: 17 }}
          tickFormatter={(v: number) => minus(v.toFixed(cfg.digits))}
          label={{
            value: cfg.yLabel,
            angle: -90,
            position: 'insideLeft',
            offset: cfg.bottom ? 35 : 21,
            fill: '#000',
            fontSize: 22,
            style: { textAnchor: 'middle' },
          }}
        />
        <ReferenceArea
          x1={X_DOMAIN[0]}
          x2={X_DOMAIN[1]}
          y1={cfg.yDomain[0]}
          y2={cfg.yDomain[1]}
          fill="none"
          stroke="#000"
          strokeWidth={1}
          ifOverflow="visible"
        />
        <Scatter data={toPts(cfg.cyan)} shape={CyanDot} isAnimationActive={false} />
        {cfg.lines.map((l, i) => (
          <Scatter
            key={i}
            data={loop(l.p)}
            line={LINE[l.k as Kind]}
            lineType="joint"
            shape={NoDot}
            fill="none"
            isAnimationActive={false}
          />
        ))}
        <Scatter data={toPts(cfg.red)} shape={RedDot} isAnimationActive={false} />
      </ScatterChart>
    </div>
  );
}

export default function App() {
  return (
    <div
      style={{
        position: 'absolute',
        left: 0,
        top: 0,
        width: 1323,
        height: 686,
        overflow: 'hidden',
        background: '#fff',
        fontFamily: '"DejaVu Sans", sans-serif',
      }}
    >
      <div style={{ position: 'absolute', left: 424, top: 16, width: 6, height: 6, borderRadius: 3, background: CYAN, opacity: 0.8 }} />
      <div style={{ position: 'absolute', left: 456, top: 6, fontSize: 19.5, whiteSpace: 'nowrap' }}>
        <i>ω</i> Cen (400)
      </div>
      <div style={{ position: 'absolute', left: 619, top: 16, width: 6, height: 6, borderRadius: 3, background: BROWN }} />
      <div style={{ position: 'absolute', left: 668, top: 6, fontSize: 19, whiteSpace: 'nowrap' }}>Thamnos cleaned (44/118)</div>
      {panels.map((p, i) => (
        <Panel key={i} cfg={p} />
      ))}
    </div>
  );
}
